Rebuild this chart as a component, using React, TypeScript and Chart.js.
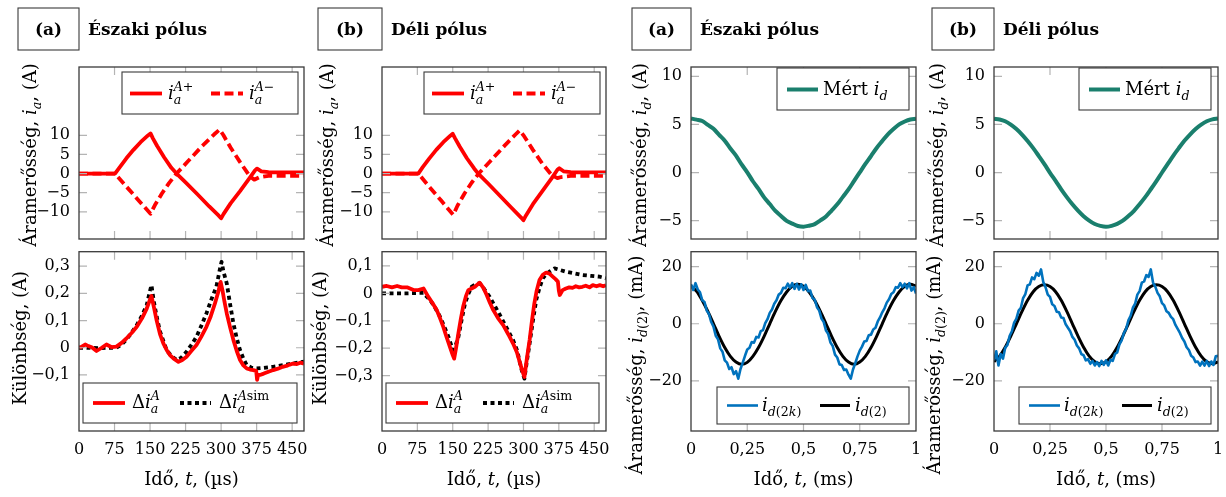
import { useEffect, useRef } from 'react';
import { Chart, registerables } from 'chart.js';
Chart.register(...registerables);

type Pt = [number, number];

// ---------------- tick labels ----------------
const T_TICKS_US = [0, 75, 150, 225, 300, 375, 450];
const T_TICKS_MS = [0, 0.25, 0.5, 0.75, 1];
const IA_TICKS = [-10, -5, 0, 5, 10];
const DIFF_TICKS_N = [-0.1, 0, 0.1, 0.2, 0.3];
const DIFF_TICKS_S = [-0.3, -0.2, -0.1, 0, 0.1];
const ID_TICKS = [-5, 0, 5, 10];
const ID2_TICKS = [-20, 0, 20];

// ---------------- series (time µs, current A) ----------------
const iaPlusNorth: Pt[] = [[0,0],[76,0],[85,1.5],[100,4.0],[115,6.2],[130,8.2],[145,9.9],[151,10.5],[156,9.2],[165,7.2],[180,4.2],[195,1.5],[206,0],[225,-2.3],[250,-5.4],[275,-8.6],[295,-11.0],[300,-11.7],[305,-10.6],[320,-7.8],[340,-4.6],[360,-1.2],[372,0.9],[376,1.3],[385,0.6],[400,0.35],[475,0.3]];
const iaMinusNorth: Pt[] = [[0,0],[76,0],[100,-3.4],[125,-6.9],[151,-10.5],[160,-8.3],[175,-5.2],[190,-2.5],[206,0],[230,3.2],[260,7.2],[285,10.2],[297,11.5],[305,10.0],[320,6.8],[340,3.0],[360,-0.6],[370,-1.6],[380,-1.0],[400,-0.6],[475,-0.6]];
const iaPlusSouth: Pt[] = [[0,0],[77,0],[86,1.6],[100,3.9],[115,6.2],[130,8.2],[145,9.9],[150,10.4],[155,9.2],[165,7.0],[180,4.0],[195,1.4],[204,0],[225,-2.6],[250,-5.8],[275,-9.0],[295,-11.5],[300,-12.2],[305,-11.0],[320,-8.0],[340,-4.6],[360,-1.2],[372,1.0],[376,1.4],[385,0.6],[400,0.35],[475,0.3]];
const iaMinusSouth: Pt[] = [[0,0],[77,0],[100,-3.4],[125,-7.0],[151,-10.8],[160,-8.4],[175,-5.2],[190,-2.4],[205,0],[230,3.3],[260,7.3],[283,10.2],[292,11.3],[300,10.0],[320,6.2],[340,2.6],[360,-0.4],[372,-1.2],[380,-0.9],[400,-0.6],[475,-0.6]];

const dIaNorth: Pt[] = [[0,0],[6,0.004],[13,0.012],[20,0.006],[27,0.002],[37,-0.012],[48,0],[58,0.012],[69,0.002],[79,0.004],[90,0.018],[100,0.034],[111,0.054],[122,0.077],[133,0.108],[143,0.144],[150,0.178],[153,0.19],[158,0.15],[164,0.1],[171,0.05],[178,0.016],[185,-0.008],[192,-0.027],[200,-0.04],[210,-0.052],[218,-0.045],[227,-0.033],[237,-0.012],[248,0.01],[258,0.04],[269,0.077],[278,0.115],[287,0.163],[294,0.205],[299,0.242],[303,0.21],[307,0.17],[312,0.126],[319,0.075],[326,0.028],[333,-0.012],[340,-0.045],[347,-0.065],[354,-0.076],[361,-0.08],[368,-0.082],[374,-0.085],[376,-0.118],[378,-0.1],[382,-0.1],[390,-0.095],[400,-0.088],[410,-0.082],[420,-0.077],[430,-0.07],[438,-0.067],[445,-0.062],[452,-0.058],[460,-0.06],[467,-0.055],[475,-0.058]];
const dIaSimNorth: Pt[] = [[0,0],[20,0],[44,-0.002],[60,0],[79,0],[90,0.012],[100,0.03],[111,0.055],[122,0.083],[133,0.118],[143,0.157],[150,0.21],[153,0.23],[158,0.17],[164,0.114],[171,0.06],[178,0.025],[185,-0.009],[195,-0.03],[206,-0.045],[215,-0.038],[227,-0.015],[237,0.01],[248,0.04],[258,0.08],[269,0.126],[280,0.18],[290,0.224],[297,0.285],[301,0.316],[305,0.28],[312,0.236],[319,0.16],[326,0.089],[333,0.035],[340,-0.009],[347,-0.04],[354,-0.064],[365,-0.074],[375,-0.076],[390,-0.074],[410,-0.07],[430,-0.064],[452,-0.058],[475,-0.051]];
const dIaSouth: Pt[] = [[0,0.024],[10,0.027],[21,0.022],[32,0.027],[42,0.022],[53,0.022],[67,0.012],[77,0.012],[88,0.018],[98,-0.012],[107,-0.035],[116,-0.061],[123,-0.09],[130,-0.122],[137,-0.16],[144,-0.195],[150,-0.225],[153,-0.238],[157,-0.2],[162,-0.146],[167,-0.095],[172,-0.049],[178,-0.01],[183,0.012],[190,0.018],[197,0.024],[207,0.039],[215,0.02],[222,-0.006],[229,-0.035],[236,-0.061],[246,-0.09],[257,-0.116],[268,-0.15],[278,-0.183],[286,-0.215],[292,-0.25],[297,-0.28],[302,-0.305],[307,-0.24],[313,-0.17],[318,-0.1],[323,-0.037],[328,0.01],[334,0.049],[341,0.068],[348,0.076],[355,0.072],[362,0.061],[368,0.052],[373,0.043],[375,0.01],[377,-0.006],[383,0.012],[390,0.018],[397,0.022],[404,0.02],[411,0.026],[418,0.022],[425,0.024],[432,0.028],[440,0.022],[447,0.03],[455,0.026],[462,0.03],[469,0.026],[475,0.03]];
const dIaSimSouth: Pt[] = [[0,0],[50,0],[88,0.002],[95,-0.012],[102,-0.024],[112,-0.05],[123,-0.085],[133,-0.125],[141,-0.159],[147,-0.19],[151,-0.207],[156,-0.19],[162,-0.159],[169,-0.095],[176,-0.037],[183,-0.002],[190,0.024],[198,0.033],[207,0.037],[217,0.015],[228,-0.012],[239,-0.045],[250,-0.079],[264,-0.125],[278,-0.171],[287,-0.21],[292,-0.25],[297,-0.285],[302,-0.311],[307,-0.25],[313,-0.183],[320,-0.1],[327,-0.024],[334,0.02],[341,0.055],[348,0.07],[355,0.079],[366,0.091],[378,0.085],[390,0.079],[408,0.073],[425,0.067],[443,0.064],[461,0.061],[475,0.055]];

// ---------------- series (time ms, uniform samples) ----------------
const idNorth = [5.62,5.5,5.36,4.95,4.55,3.92,3.31,2.5,1.76,0.85,0.03,-0.9,-1.7,-2.57,-3.27,-3.99,-4.5,-5.02,-5.3,-5.55,-5.62,-5.52,-5.35,-4.97,-4.55,-3.94,-3.3,-2.52,-1.75,-0.86,0.02,0.9,1.72,2.56,3.28,3.97,4.52,5.0,5.31,5.52,5.6];
const idSouth = [5.6,5.52,5.33,4.98,4.52,3.95,3.28,2.54,1.72,0.88,-0.02,-0.87,-1.74,-2.55,-3.3,-3.96,-4.54,-4.99,-5.34,-5.54,-5.63,-5.53,-5.33,-5.0,-4.52,-3.97,-3.28,-2.55,-1.73,-0.88,0.01,0.87,1.74,2.54,3.3,3.95,4.53,4.98,5.33,5.53,5.62];
const id2kNorth = [13.8,11.8,14.2,12.0,11.0,8.2,7.6,4.6,3.4,0.6,-1.0,-4.2,-5.4,-8.6,-9.8,-12.8,-13.6,-15.8,-15.2,-17.6,-16.6,-19.2,-15.8,-13.6,-11.2,-9.0,-8.4,-6.4,-6.6,-4.6,-4.8,-2.6,-2.2,0.2,1.6,3.8,5.0,7.0,8.2,10.2,10.8,12.6,12.4,14.0,12.6,14.2,12.2,14.0,12.0,13.8,11.8,13.6,11.4,11.6,9.0,8.4,5.8,4.6,1.8,0.6,-2.4,-3.6,-6.6,-7.8,-10.8,-11.8,-14.2,-14.4,-16.2,-16.0,-17.8,-19.2,-16.0,-13.8,-11.4,-9.4,-8.0,-6.2,-6.0,-4.0,-3.8,-2.0,-1.4,0.8,2.2,4.0,5.4,7.4,8.6,10.4,11.0,12.8,12.6,14.2,12.8,14.0,12.4,14.2,11.6,12.8,10.6];
const id2North = [13.2,11.3,8.1,4.3,0,-4.4,-8.3,-11.4,-13.4,-14.2,-13.5,-11.4,-8.3,-4.4,0,4.3,8.1,11.1,13.1,13.8,13.1,11.1,8.1,4.3,0,-4.4,-8.3,-11.4,-13.4,-14.2,-13.4,-11.4,-8.3,-4.4,0,4.3,8.1,11.1,13.1,13.8,13.2];
const id2kSouth = [-12.8,-9.6,-14.6,-10.6,-12.2,-8.4,-7.4,-4.2,-2.6,0.4,1.8,4.6,5.6,9.0,10.4,13.4,13.8,16.2,15.6,17.8,16.8,19.0,14.6,12.8,10.2,9.4,6.8,6.2,4.2,4.0,2.2,2.0,-0.2,-1.4,-2.6,-4.6,-5.6,-7.6,-8.6,-10.6,-11.0,-12.8,-12.4,-14.0,-13.0,-14.6,-13.4,-14.8,-13.0,-14.4,-12.8,-14.6,-12.6,-13.0,-10.6,-10.0,-7.2,-5.8,-3.2,-1.8,1.2,2.8,5.6,7.0,10.2,11.4,14.4,14.8,17.0,16.4,19.0,14.4,13.0,10.8,9.6,7.2,6.4,4.4,3.8,2.4,1.6,-0.4,-1.8,-3.2,-5.0,-6.2,-8.2,-9.2,-11.2,-11.8,-13.4,-13.2,-14.6,-13.2,-14.6,-13.0,-14.8,-13.2,-14.4,-11.4,-11.2];
const id2South = [-13.3,-11.3,-8.2,-4.3,0,4.3,8.2,11.2,13.0,13.6,13.0,11.2,8.2,4.3,0,-4.3,-8.2,-11.3,-13.3,-14.0,-13.3,-11.3,-8.2,-4.3,0,4.3,8.2,11.2,13.0,13.6,13.0,11.2,8.2,4.3,0,-4.3,-8.2,-11.3,-13.3,-14.0,-13.3];

// ---------------- styling ----------------
const FONT = '"DejaVu Serif"';
const RED = '#ff0000', BLUE = '#0072bd', TEAL = '#1a7f6d', BLACK = '#000000';
const FRAME = '#3a3a3a', TICK = '#b4b4b4';
const TICK_LEN = 8;
const TXT = 18;

interface Style { color: string; width: number; dash?: number[]; smooth?: boolean }
const S_SOLID: Style = { color: RED, width: 3.8 };
const S_DASH: Style = { color: RED, width: 3.8, dash: [9, 4.5] };
const S_DOT: Style = { color: BLACK, width: 3.8, dash: [4, 3.5] };
const S_TEAL: Style = { color: TEAL, width: 4, smooth: true };
const S_BLUE: Style = { color: BLUE, width: 2.6 };
const S_BLK: Style = { color: BLACK, width: 3, smooth: true };

type Run = { t: string; it?: boolean; b?: boolean };
type Script = { sub?: Run[]; sup?: Run[] };
type Item = Run | Script;

const uniform = (vals: number[]): Pt[] => vals.map((v, i) => [i / (vals.length - 1), v]);

const fontOf = (r: Run, size: number) => `${r.it ? 'italic ' : ''}${r.b ? 'bold ' : ''}${size}px ${FONT}`;
function runsWidth(ctx: CanvasRenderingContext2D, runs: Run[], size: number) {
  let w = 0;
  for (const r of runs) { ctx.font = fontOf(r, size); w += ctx.measureText(r.t).width; }
  return w;
}
function richWidth(ctx: CanvasRenderingContext2D, items: Item[], size: number) {
  let w = 0;
  for (const it of items) {
    if ('t' in it) { ctx.font = fontOf(it as Run, size); w += ctx.measureText((it as Run).t).width; }
    else {
      const s = size * 0.7; const sc = it as Script;
      w += Math.max(sc.sub ? runsWidth(ctx, sc.sub, s) : 0, sc.sup ? runsWidth(ctx, sc.sup, s) : 0);
    }
  }
  return w;
}
function drawRuns(ctx: CanvasRenderingContext2D, runs: Run[], x: number, y: number, size: number) {
  for (const r of runs) { ctx.font = fontOf(r, size); ctx.fillText(r.t, x, y); x += ctx.measureText(r.t).width; }
  return x;
}
function drawRich(ctx: CanvasRenderingContext2D, items: Item[], x: number, y: number, size: number) {
  ctx.textAlign = 'left'; ctx.textBaseline = 'alphabetic'; ctx.fillStyle = '#000';
  for (const it of items) {
    if ('t' in it) {
      const r = it as Run; ctx.font = fontOf(r, size); ctx.fillText(r.t, x, y); x += ctx.measureText(r.t).width;
    } else {
      const sc = it as Script; const s = size * 0.7;
      let w1 = 0, w2 = 0;
      if (sc.sub) w1 = drawRuns(ctx, sc.sub, x, y + size * 0.3, s) - x;
      if (sc.sup) w2 = drawRuns(ctx, sc.sup, x, y - size * 0.42, s) - x;
      x += Math.max(w1, w2);
    }
  }
}

// ---------------- texts ----------------
const Y_IA: Item[] = [{ t: 'Áramerősség, ' }, { t: 'i', it: true }, { sub: [{ t: 'a', it: true }] }, { t: ', (A)' }];
const Y_DIFF: Item[] = [{ t: 'Különbség, (A)' }];
const Y_ID: Item[] = [{ t: 'Áramerősség, ' }, { t: 'i', it: true }, { sub: [{ t: 'd', it: true }] }, { t: ', (A)' }];
const Y_ID2: Item[] = [{ t: 'Áramerősség, ' }, { t: 'i', it: true }, { sub: [{ t: 'd', it: true }, { t: '(2)' }] }, { t: ', (mA)' }];
const X_US: Item[] = [{ t: 'Idő, ' }, { t: 't', it: true }, { t: ', (µs)' }];
const X_MS: Item[] = [{ t: 'Idő, ' }, { t: 't', it: true }, { t: ', (ms)' }];
const L_APLUS: Item[] = [{ t: 'i', it: true }, { sub: [{ t: 'a', it: true }], sup: [{ t: 'A', it: true }, { t: '+' }] }];
const L_AMINUS: Item[] = [{ t: 'i', it: true }, { sub: [{ t: 'a', it: true }], sup: [{ t: 'A', it: true }, { t: '−' }] }];
const L_DIA: Item[] = [{ t: 'Δ' }, { t: 'i', it: true }, { sub: [{ t: 'a', it: true }], sup: [{ t: 'A', it: true }] }];
const L_DIASIM: Item[] = [{ t: 'Δ' }, { t: 'i', it: true }, { sub: [{ t: 'a', it: true }], sup: [{ t: 'A', it: true }, { t: 'sim' }] }];
const L_MERT: Item[] = [{ t: 'Mért ' }, { t: 'i', it: true }, { sub: [{ t: 'd', it: true }] }];
const L_ID2K: Item[] = [{ t: 'i', it: true }, { sub: [{ t: 'd', it: true }, { t: '(2' }, { t: 'k', it: true }, { t: ')' }] }];
const L_ID2: Item[] = [{ t: 'i', it: true }, { sub: [{ t: 'd', it: true }, { t: '(2)' }] }];

// ---------------- layout ----------------
const COLS = [
  { L: 79, R: 304, hb: 18, label: '(a)', title: 'Északi pólus', ytTop: 36, ytBot: 26 },
  { L: 382, R: 606, hb: 318, label: '(b)', title: 'Déli pólus', ytTop: 333, ytBot: 326 },
  { L: 691, R: 916, hb: 632, label: '(a)', title: 'Északi pólus', ytTop: 646, ytBot: 642 },
  { L: 994, R: 1218, hb: 932, label: '(b)', title: 'Déli pólus', ytTop: 943, ytBot: 940 },
];
const TOP_A = { t: 67, b: 244.5 };
const BOT_A = { t: 251.7, b: 431 };

interface LegendEntry { s0: number; s1: number; sy: number; style: Style; tx: number; items: Item[] }
interface PanelSpec {
  key: string; left: number; top: number; w: number; h: number;
  area: { l: number; t: number; r: number; b: number };
  xr: [number, number]; xt: number[]; xLabels: boolean;
  yr: [number, number]; yt: number[];
  series: { pts: Pt[]; style: Style }[];
  yTitle: { items: Item[]; bx: number; cy: number };
  xTitle?: { items: Item[]; cx: number; by: number };
  legend: { box: [number, number, number, number]; entries: LegendEntry[] };
  header?: { box: [number, number, number, number]; label: string; title: string; tx: number };
}

const fmt = (v: number) => {
  const s = String(v).replace('.', ',');
  return v < 0 ? '\u2212' + s.slice(1) : s;
};

function buildPanels(): PanelSpec[] {
  const out: PanelSpec[] = [];
  COLS.forEach((c, i) => {
    const isLeft = i < 2;
    const north = i % 2 === 0;
    const cl = c.L - 79;
    const cw = c.R - c.L + 87;
    // top
    const tlx = isLeft ? c.R - 182 : c.R - 139;
    const topLegend = isLeft
      ? { box: [tlx, 72, c.R - 6, 114] as [number, number, number, number], entries: [
          { s0: tlx + 8, s1: tlx + 40, sy: 93.5, style: S_SOLID, tx: tlx + 46, items: L_APLUS },
          { s0: tlx + 89, s1: tlx + 121, sy: 93.5, style: S_DASH, tx: tlx + 127, items: L_AMINUS },
        ] }
      : { box: [tlx, 68, c.R - 7, 110] as [number, number, number, number], entries: [
          { s0: tlx + 10, s1: tlx + 41, sy: 89.5, style: S_TEAL, tx: tlx + 46, items: L_MERT },
        ] };
    out.push({
      key: `t${i}`, left: cl, top: 0, w: cw, h: 250,
      area: { l: c.L, t: TOP_A.t, r: c.R, b: TOP_A.b },
      xr: isLeft ? [0, 475] : [0, 1], xt: isLeft ? T_TICKS_US : T_TICKS_MS, xLabels: false,
      yr: isLeft ? [-17.1, 27.85] : [-6.9, 10.97], yt: isLeft ? IA_TICKS : ID_TICKS,
      series: isLeft
        ? [{ pts: north ? iaPlusNorth : iaPlusSouth, style: S_SOLID }, { pts: north ? iaMinusNorth : iaMinusSouth, style: S_DASH }]
        : [{ pts: uniform(north ? idNorth : idSouth), style: S_TEAL }],
      yTitle: { items: isLeft ? Y_IA : Y_ID, bx: c.ytTop, cy: 155 },
      legend: topLegend,
      header: { box: [c.hb, 8, c.L, 50], label: c.label, title: c.title, tx: c.L + 9 },
    });
    // bottom
    const blx = isLeft ? c.L + 4 : c.R - 199;
    const botLegend = isLeft
      ? { box: [blx, 383, c.R - 7, 423] as [number, number, number, number], entries: [
          { s0: blx + 10, s1: blx + 42, sy: 403, style: S_SOLID, tx: blx + 49, items: L_DIA },
          { s0: blx + 97, s1: blx + 128, sy: 403, style: S_DOT, tx: blx + 136, items: L_DIASIM },
        ] }
      : { box: [blx, 387, c.R - 7, 424] as [number, number, number, number], entries: [
          { s0: blx + 10, s1: blx + 41, sy: 405.5, style: S_BLUE, tx: blx + 45, items: L_ID2K },
          { s0: blx + 103, s1: blx + 133, sy: 405.5, style: S_BLK, tx: blx + 138, items: L_ID2 },
        ] };
    out.push({
      key: `b${i}`, left: cl, top: 248, w: cw, h: 249,
      area: { l: c.L, t: BOT_A.t, r: c.R, b: BOT_A.b },
      xr: isLeft ? [0, 475] : [0, 1], xt: isLeft ? T_TICKS_US : T_TICKS_MS, xLabels: true,
      yr: isLeft ? (north ? [-0.306, 0.353] : [-0.502, 0.152]) : [-37.5, 25.2],
      yt: isLeft ? (north ? DIFF_TICKS_N : DIFF_TICKS_S) : ID2_TICKS,
      series: isLeft
        ? [{ pts: north ? dIaNorth : dIaSouth, style: S_SOLID }, { pts: north ? dIaSimNorth : dIaSimSouth, style: S_DOT }]
        : [{ pts: uniform(north ? id2kNorth : id2kSouth), style: S_BLUE }, { pts: uniform(north ? id2North : id2South), style: S_BLK }],
      yTitle: { items: isLeft ? Y_DIFF : Y_ID2, bx: c.ytBot, cy: isLeft ? 338 : 365 },
      xTitle: { items: isLeft ? X_US : X_MS, cx: (c.L + c.R) / 2, by: 485 },
      legend: botLegend,
    });
  });
  return out;
}

function makeDeco(p: PanelSpec) {
  return {
    id: 'deco_' + p.key,
    afterDraw(chart: any) {
      const ctx: CanvasRenderingContext2D = chart.ctx;
      const a = chart.chartArea;
      const xs = chart.scales.x, ys = chart.scales.y;
      ctx.save();
      ctx.strokeStyle = TICK; ctx.lineWidth = 1.2; ctx.setLineDash([]);
      ctx.beginPath();
      for (const v of p.xt) {
        const px = xs.getPixelForValue(v);
        if (px < a.left + 1 || px > a.right - 1) continue;
        ctx.moveTo(px, a.bottom); ctx.lineTo(px, a.bottom - TICK_LEN);
        ctx.moveTo(px, a.top); ctx.lineTo(px, a.top + TICK_LEN);
      }
      for (const v of p.yt) {
        const py = ys.getPixelForValue(v);
        if (py < a.top + 1 || py > a.bottom - 1) continue;
        ctx.moveTo(a.left, py); ctx.lineTo(a.left + TICK_LEN, py);
        ctx.moveTo(a.right, py); ctx.lineTo(a.right - TICK_LEN, py);
      }
      ctx.stroke();
      ctx.strokeStyle = FRAME; ctx.lineWidth = 1.3;
      ctx.strokeRect(a.left, a.top, a.right - a.left, a.bottom - a.top);

      ctx.translate(-p.left, -p.top);
      // legend
      const [bx0, by0, bx1, by1] = p.legend.box;
      ctx.fillStyle = '#ffffff'; ctx.fillRect(bx0, by0, bx1 - bx0, by1 - by0);
      ctx.strokeStyle = FRAME; ctx.lineWidth = 1.1; ctx.strokeRect(bx0, by0, bx1 - bx0, by1 - by0);
      for (const e of p.legend.entries) {
        ctx.save();
        ctx.strokeStyle = e.style.color; ctx.lineWidth = e.style.width; ctx.lineCap = 'butt';
        ctx.setLineDash(e.style.dash || []);
        ctx.beginPath(); ctx.moveTo(e.s0, e.sy); ctx.lineTo(e.s1, e.sy); ctx.stroke();
        ctx.restore();
        drawRich(ctx, e.items, e.tx, e.sy + 5, TXT);
      }
      // y title
      ctx.save();
      ctx.translate(p.yTitle.bx, p.yTitle.cy); ctx.rotate(-Math.PI / 2);
      const yw = richWidth(ctx, p.yTitle.items, TXT);
      drawRich(ctx, p.yTitle.items, -yw / 2, 0, TXT);
      ctx.restore();
      // x title
      if (p.xTitle) {
        const xw = richWidth(ctx, p.xTitle.items, TXT);
        drawRich(ctx, p.xTitle.items, p.xTitle.cx - xw / 2, p.xTitle.by, TXT);
      }
      // header
      if (p.header) {
        const [h0, h1, h2, h3] = p.header.box;
        ctx.strokeStyle = FRAME; ctx.lineWidth = 1.1; ctx.strokeRect(h0, h1, h2 - h0, h3 - h1);
        ctx.fillStyle = '#000'; ctx.font = `bold 17px ${FONT}`; ctx.textBaseline = 'alphabetic';
        ctx.textAlign = 'center'; ctx.fillText(p.header.label, (h0 + h2) / 2, 35);
        ctx.textAlign = 'left'; ctx.fillText(p.header.title, p.header.tx, 35);
      }
      ctx.restore();
    },
  };
}

function buildConfig(p: PanelSpec): any {
  const yW = p.area.l - p.left;
  const xH = p.top + p.h - p.area.b;
  const tickFont = { family: FONT, size: 16 };
  return {
    type: 'line',
    data: {
      datasets: p.series.map((s) => ({
        data: s.pts.map(([x, y]) => ({ x, y })),
        borderColor: s.style.color,
        borderWidth: s.style.width,
        borderDash: s.style.dash || [],
        borderCapStyle: 'butt',
        borderJoinStyle: 'round',
        pointRadius: 0,
        fill: false,
        tension: 0,
        cubicInterpolationMode: s.style.smooth ? 'monotone' : 'default',
      })),
    },
    options: {
      responsive: false,
      maintainAspectRatio: false,
      animation: false,
      devicePixelRatio: 1,
      events: [],
      layout: { padding: { left: 0, top: p.area.t - p.top, right: p.left + p.w - p.area.r, bottom: p.xLabels ? 0 : xH } },
      plugins: { legend: { display: false }, tooltip: { enabled: false } },
      scales: {
        x: {
          type: 'linear', position: 'bottom', min: p.xr[0], max: p.xr[1], display: p.xLabels,
          grid: { display: false, drawTicks: false }, border: { display: false },
          ticks: { autoSkip: false, maxRotation: 0, minRotation: 0, padding: 9, font: tickFont, color: '#000', callback: (v: number) => fmt(v) },
          afterBuildTicks: (s: any) => { s.ticks = p.xt.map((v) => ({ value: v })); },
          afterFit: (s: any) => { s.height = xH; s.paddingLeft = 0; s.paddingRight = 0; },
        },
        y: {
          type: 'linear', position: 'left', min: p.yr[0], max: p.yr[1],
          grid: { display: false, drawTicks: false }, border: { display: false },
          ticks: { autoSkip: false, padding: 9, font: tickFont, color: '#000', callback: (v: number) => fmt(v) },
          afterBuildTicks: (s: any) => { s.ticks = p.yt.map((v) => ({ value: v })); },
          afterFit: (s: any) => { s.width = yW; s.paddingTop = 0; s.paddingBottom = 0; },
        },
      },
    },
    plugins: [makeDeco(p)],
  };
}

function Panel({ spec }: { spec: PanelSpec }) {
  const ref = useRef<HTMLCanvasElement>(null);
  useEffect(() => {
    const chart = new Chart(ref.current as HTMLCanvasElement, buildConfig(spec));
    return () => chart.destroy();
  }, [spec]);
  return (
    <canvas
      ref={ref}
      width={spec.w}
      height={spec.h}
      style={{ position: 'absolute', left: spec.left, top: spec.top, width: spec.w, height: spec.h }}
    />
  );
}

const PANELS = buildPanels();

export default function App() {
  return (
    <div style={{ position: 'absolute', left: 0, top: 0, width: 1226, height: 497, background: '#fff', overflow: 'hidden' }}>
      {PANELS.map((p) => <Panel key={p.key} spec={p} />)}
    </div>
  );
}
